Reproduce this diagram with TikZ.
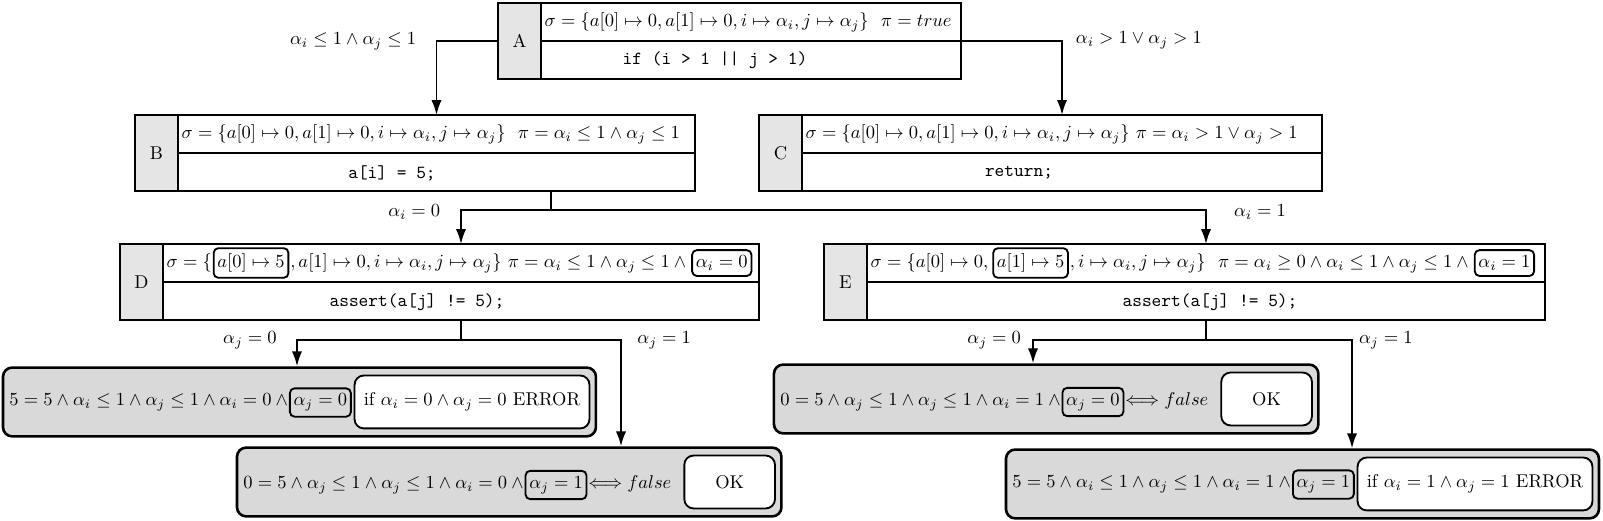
\documentclass[tikz,border=0pt]{standalone}
\usepackage{amsmath}
\usetikzlibrary{arrows.meta,positioning,fit,backgrounds}

\begin{document}
\begin{tikzpicture} [> = {Latex[length=8pt,width=5.5pt]}, line width=1pt]
            % Estilos
            \tikzstyle{lbl}=[draw, fill=gray!20, minimum width=0.817cm, minimum height=1.444cm, inner sep=0pt, outer sep=0pt]
            \tikzstyle{srow}=[draw, fill=white, minimum height=0.722cm, inner sep=0pt, outer sep=0pt, anchor=north west]
            \tikzstyle{txt}=[inner sep=0pt]
            \tikzstyle{hl}=[draw, rounded corners=2.5pt, inner xsep=2pt, inner ysep=3pt]
            \tikzstyle{leaf}=[draw, line width=1.4pt, fill=gray!30, rounded corners=5pt, inner xsep=3pt, inner ysep=3.8pt]
            \tikzstyle{res}=[draw, fill=white, rounded corners=5pt, minimum height=28.6pt, inner xsep=4pt]

            \useasboundingbox (0,0) rectangle (30.457,-9.899);

            % Estados
            \node[lbl, anchor=north west] (A) at (9.462,-0.057) {A};
            \node[srow, minimum width=7.98cm] (A1) at (A.north east) {};
            \node[srow, minimum width=7.98cm] (A2) at (A1.south west) {};
            \node[txt, right=1.5pt of A1.west] (A1a) {$\sigma = \{a[0] \mapsto 0, a[1] \mapsto 0, i \mapsto \alpha_i, j \mapsto \alpha_j\}\ \ \pi = true$};
            \node[txt] (A2a) at (13.585,-1.14) {\texttt{if (i > 1 || j > 1)}};

            \node[lbl, anchor=north west] (B) at (2.565,-2.185) {B};
            \node[srow, minimum width=9.823cm] (B1) at (B.north east) {};
            \node[srow, minimum width=9.823cm] (B2) at (B1.south west) {};
            \node[txt, right=1.5pt of B1.west] (B1a) {$\sigma = \{a[0] \mapsto 0, a[1] \mapsto 0, i \mapsto \alpha_i, j \mapsto \alpha_j\}\ \ \pi = \alpha_i \leq 1 \land \alpha_j \leq 1$};
            \node[txt] (B2a) at (7.448,-3.287) {\texttt{a[i] = 5;}};

            \node[lbl, anchor=north west] (C) at (14.421,-2.185) {C};
            \node[srow, minimum width=9.88cm] (C1) at (C.north east) {};
            \node[srow, minimum width=9.88cm] (C2) at (C1.south west) {};
            \node[txt, right=1.5pt of C1.west] (C1a) {$\sigma = \{a[0] \mapsto 0, a[1] \mapsto 0, i \mapsto \alpha_i, j \mapsto \alpha_j\}\ \pi = \alpha_i > 1 \lor \alpha_j > 1$};
            \node[txt] (C2a) at (19.361,-3.287) {\texttt{return;}};

            \node[lbl, anchor=north west] (D) at (2.28,-4.636) {D};
            \node[srow, minimum width=11.324cm] (D1) at (D.north east) {};
            \node[srow, minimum width=11.324cm] (D2) at (D1.south west) {};
            \node[txt, right=1.5pt of D1.west] (D1a) {$\sigma = \{$};
            \node[hl, base right=0pt of D1a] (D1b) {$a[0] \mapsto 5$};
            \node[txt, base right=0pt of D1b] (D1c) {$, a[1] \mapsto 0, i \mapsto \alpha_i, j \mapsto \alpha_j\}\ \pi = \alpha_i \leq 1 \land \alpha_j \leq 1 \land{}$};
            \node[hl, base right=0pt of D1c] (D1d) {$\alpha_i = 0$};
            \node[txt] (D2a) at (7.923,-5.738) {\texttt{assert(a[j] != 5);}};

            \node[lbl, anchor=north west] (E) at (15.656,-4.636) {E};
            \node[srow, minimum width=12.882cm] (E1) at (E.north east) {};
            \node[srow, minimum width=12.882cm] (E2) at (E1.south west) {};
            \node[txt, right=1.5pt of E1.west] (E1a) {$\sigma = \{a[0] \mapsto 0,\,$};
            \node[hl, base right=0pt of E1a] (E1b) {$a[1] \mapsto 5$};
            \node[txt, base right=0pt of E1b] (E1c) {$, i \mapsto \alpha_i, j \mapsto \alpha_j\}\ \ \pi = \alpha_i \geq 0 \land \alpha_i \leq 1 \land \alpha_j \leq 1 \land{}$};
            \node[hl, base right=0pt of E1c] (E1d) {$\alpha_i = 1$};
            \node[txt] (E2a) at (22.99,-5.738) {\texttt{assert(a[j] != 5);}};

            % Folhas
            \node[txt, anchor=west] (L1a) at (0.162,-7.648) {$5 = 5 \land \alpha_i \leq 1 \land \alpha_j \leq 1 \land \alpha_i = 0 \mskip\medmuskip \land$};
            \node[hl, base right=0pt of L1a] (L1b) {$\alpha_j = 0$};
            \node[res, minimum width=127pt, base right=1pt of L1b] (L1c) {if $\alpha_i = 0 \land \alpha_j = 0$ ERROR};

            \node[txt, anchor=west] (L2a) at (4.608,-9.215) {$0 = 5 \land \alpha_j \leq 1 \land \alpha_j \leq 1 \land \alpha_i = 0 \mskip\medmuskip \land$};
            \node[hl, base right=0pt of L2a] (L2b) {$\alpha_j = 1$};
            \node[txt, base right=0pt of L2b] (L2c) {$\Longleftrightarrow false$};
            \node[res, minimum width=49pt, base right=6pt of L2c] (L2d) {OK};

            \node[txt, anchor=west] (L3a) at (14.81,-7.638) {$0 = 5 \land \alpha_j \leq 1 \land \alpha_j \leq 1 \land \alpha_i = 1 \mskip\medmuskip \land$};
            \node[hl, base right=0pt of L3a] (L3b) {$\alpha_j = 0$};
            \node[txt, base right=0pt of L3b] (L3c) {$\Longleftrightarrow false$};
            \node[res, minimum width=49pt, base right=6pt of L3c] (L3d) {OK};

            \node[txt, anchor=west] (L4a) at (19.219,-9.206) {$5 = 5 \land \alpha_i \leq 1 \land \alpha_j \leq 1 \land \alpha_i = 1 \mskip\medmuskip \land$};
            \node[hl, base right=0pt of L4a] (L4b) {$\alpha_j = 1$};
            \node[res, minimum width=127pt, base right=1pt of L4b] (L4c) {if $\alpha_i = 1 \land \alpha_j = 1$ ERROR};

            \begin{scope}[on background layer]
                \node[leaf, fit=(L1a)(L1c)] (L1) {};
                \node[leaf, fit=(L2a)(L2d)] (L2) {};
                \node[leaf, fit=(L3a)(L3d)] (L3) {};
                \node[leaf, fit=(L4a)(L4c)] (L4) {};
            \end{scope}

            % Arestas
            \coordinate (bj) at (10.469,-3.99);
            \coordinate (dl) at (5.643,-6.46);
            \coordinate (dr) at (11.799,-6.46);
            \coordinate (el) at (19.627,-6.46);
            \coordinate (er) at (25.688,-6.46);

            \draw[->] (A.west) -| (B1.north);
            \draw[->] (A2.north east) -| (C1.north);
            \draw (B2.south -| bj) -- (bj);
            \draw[->] (bj) -| (D1.north);
            \draw[->] (bj) -| (E1.north);
            \draw[->] (D2.south) |- (dl) -- (L1.north -| dl);
            \draw[->] (D2.south) |- (dr) -- (L2.north -| dr);
            \draw[->] (E2.south) |- (el) -- (L3.north -| el);
            \draw[->] (E2.south) |- (er) -- (L4.north -| er);

            % Condições
            \node (cAB) at (6.71,-0.78) {$\alpha_i \leq 1 \land \alpha_j \leq 1$};
            \node (cAC) at (21.64,-0.76) {$\alpha_i > 1 \lor \alpha_j > 1$};
            \node (cBD) at (7.87,-4.03) {$\alpha_i = 0$};
            \node (cBE) at (23.94,-4.03) {$\alpha_i = 1$};
            \node (cD1) at (4.75,-6.46) {$\alpha_j = 0$};
            \node (cD2) at (12.62,-6.46) {$\alpha_j = 1$};
            \node (cE1) at (18.89,-6.46) {$\alpha_j = 0$};
            \node (cE2) at (26.33,-6.46) {$\alpha_j = 1$};
        \end{tikzpicture}
\end{document}
